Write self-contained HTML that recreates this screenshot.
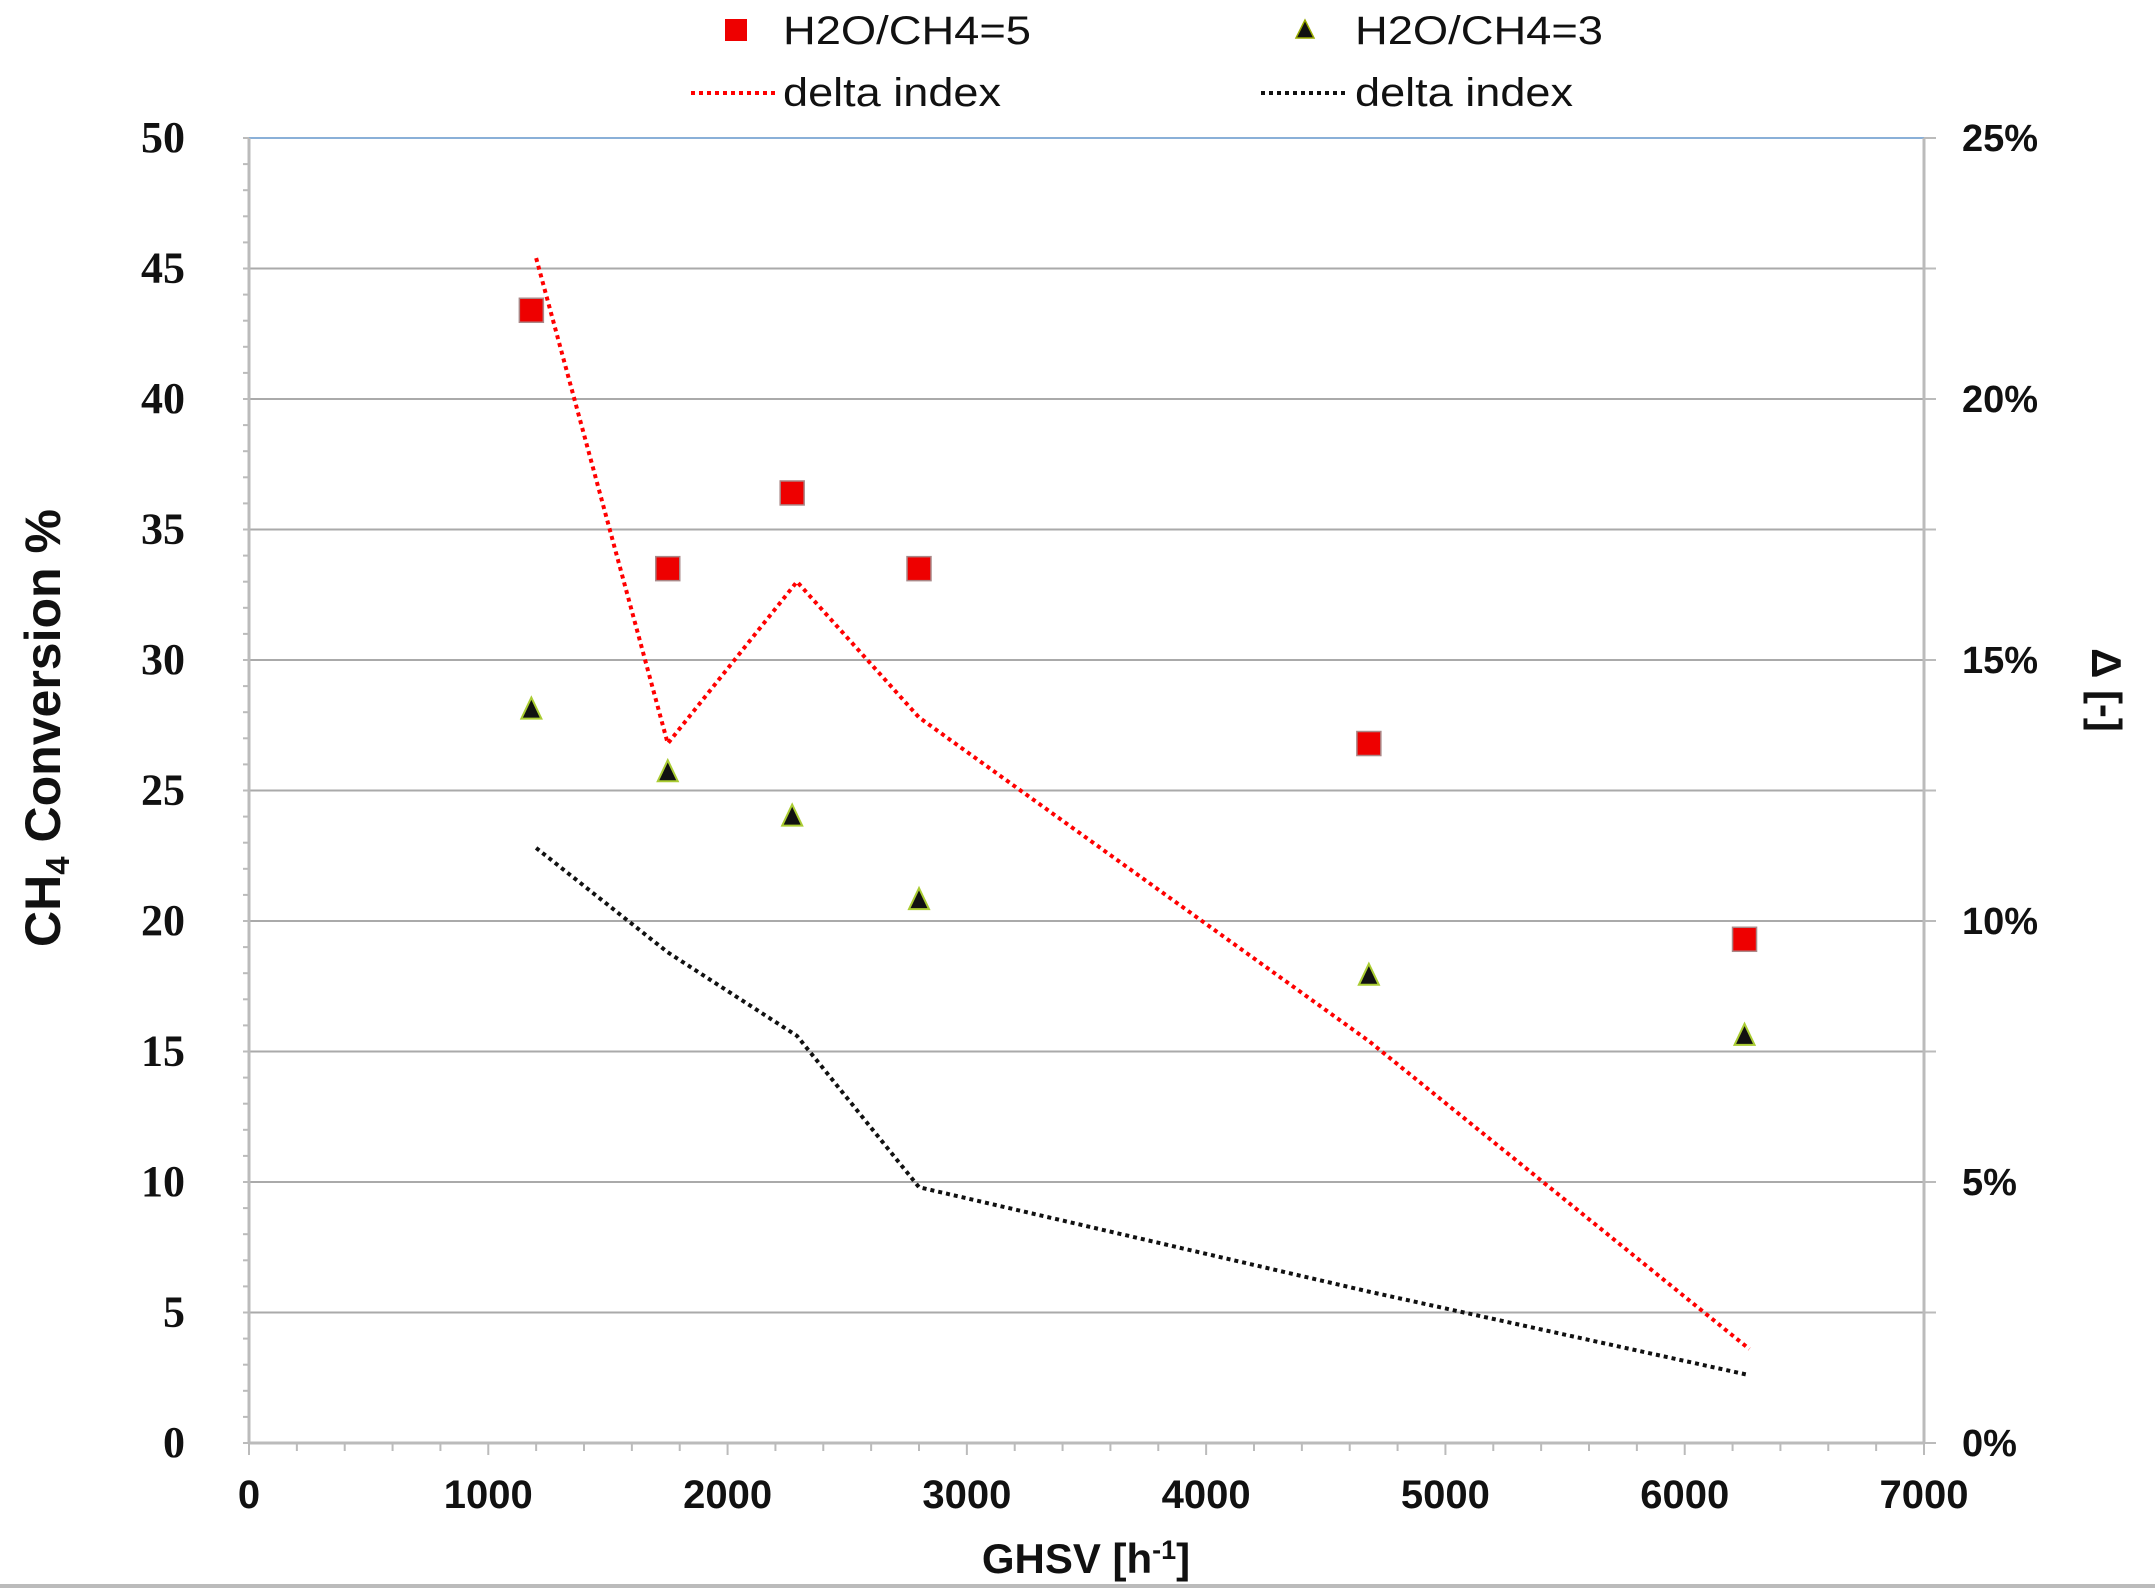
<!DOCTYPE html>
<html><head><meta charset="utf-8"><style>
body{margin:0;background:#fff;}
svg{display:block;}
</style></head><body>
<svg id="chart" width="2155" height="1590" xmlns="http://www.w3.org/2000/svg">
<g id="grid"></g><g id="axes"></g><g id="series"></g>
<g font-family="Liberation Sans, sans-serif" font-size="40" fill="#111">
 <rect x="725" y="19" width="22" height="22" fill="#e00"/>
 <text x="783" y="44" textLength="248" lengthAdjust="spacingAndGlyphs">H2O/CH4=5</text>
 <polygon points="1305,20 1296,38 1314,38" fill="#111" stroke="#9a0" stroke-width="1.5"/>
 <text x="1355" y="44" textLength="248" lengthAdjust="spacingAndGlyphs">H2O/CH4=3</text>
 <line x1="691" y1="93" x2="778" y2="93" stroke="#f00" stroke-width="4" stroke-dasharray="4,4"/>
 <text x="783" y="106" textLength="218" lengthAdjust="spacingAndGlyphs">delta index</text>
 <line x1="1261" y1="93" x2="1348" y2="93" stroke="#111" stroke-width="4" stroke-dasharray="4,4"/>
 <text x="1355" y="106" textLength="218" lengthAdjust="spacingAndGlyphs">delta index</text>
</g>
<text transform="translate(60,728) rotate(-90)" text-anchor="middle" font-family="Liberation Sans, sans-serif" font-weight="bold" font-size="50" fill="#111">CH<tspan font-size="33" dy="9">4</tspan><tspan dy="-9"> Conversion %</tspan></text>
<text transform="translate(2092,690) rotate(90)" text-anchor="middle" font-family="Liberation Sans, sans-serif" font-weight="bold" font-size="42" fill="#111">Δ [-]</text>
<text x="1086" y="1573" text-anchor="middle" font-family="Liberation Sans, sans-serif" font-weight="bold" font-size="42" fill="#111">GHSV [h<tspan font-size="27" dy="-14">-1</tspan><tspan dy="14">]</tspan></text>
<line x1="0" y1="1586" x2="2155" y2="1586" stroke="#bbb" stroke-width="4"/>
</svg>
<script>
const ghsv=[1180,1750,2270,2800,4680,6250];
const conv5=[43.4,33.5,36.4,33.5,26.8,19.3];
const conv3=[28.1,25.7,24.0,20.8,17.9,15.6];
const deltaX=[1200,1750,2290,2800,4680,6270];
const delta5=[22.7,13.4,16.5,13.9,7.7,1.8];
const delta3=[11.4,9.4,7.8,4.9,2.9,1.3];
const xTicks=[0,1000,2000,3000,4000,5000,6000,7000];
const yTicks=[0,5,10,15,20,25,30,35,40,45,50];
const rTicks=[0,5,10,15,20,25];

const L=249,R=1924,T=138,B=1443;
const xs=v=>L+(v/7000)*(R-L);
const ys=v=>B-(v/50)*(B-T);
const yr=v=>B-(v/25)*(B-T);
const NS='http://www.w3.org/2000/svg';
function mk(tag,parent,attrs){const e=document.createElementNS(NS,tag);for(const k in attrs)e.setAttribute(k,attrs[k]);parent.appendChild(e);return e;}
const grid=document.getElementById('grid'),axes=document.getElementById('axes'),ser=document.getElementById('series');

yTicks.forEach(t=>{
 if(t>0){const g=mk('line',grid,{x1:L,x2:R,y1:ys(t),y2:ys(t),stroke:t==50?'#8ab0d8':'#aaa','stroke-width':2});
 
 }
 const tx=mk('text',axes,{x:185,y:ys(t)+14,'text-anchor':'end','font-family':'Liberation Serif, serif','font-weight':'bold','font-size':44,fill:'#111'});
 tx.textContent=t;
 
 
});
for(let v=0;v<=50;v++){const m=mk('line',axes,{x1:L-6,x2:L,y1:ys(v),y2:ys(v),stroke:'#bbb','stroke-width':2});
 
 }
rTicks.forEach(t=>{
 const tx=mk('text',axes,{x:1962,y:yr(t)+13,'font-family':'Liberation Sans, sans-serif','font-weight':'bold','font-size':38,fill:'#111'});
 tx.textContent=t+'%';
 
 
});
for(let v=0;v<=25;v+=2.5){const m=mk('line',axes,{x1:R,x2:R+12,y1:yr(v),y2:yr(v),stroke:'#bbb','stroke-width':2});
 
 }
xTicks.forEach(t=>{
 const tx=mk('text',axes,{x:xs(t),y:1508,'text-anchor':'middle','font-family':'Liberation Sans, sans-serif','font-weight':'bold','font-size':40,fill:'#111'});
 tx.textContent=t;
 
 
});
for(let v=0;v<=7000;v+=200){const m=mk('line',axes,{x1:xs(v),x2:xs(v),y1:B,y2:B+(v%1000==0?12:8),stroke:'#bbb','stroke-width':2});
 
 }
[[L,T,L,B],[R,T,R,B],[L,B,R,B]].forEach(a=>{const l=mk('line',axes,{x1:a[0],y1:a[1],x2:a[2],y2:a[3],stroke:'#bbb','stroke-width':3});
 
 });

const p5=mk('polyline',ser,{points:deltaX.map((x,i)=>xs(x)+','+yr(delta5[i])).join(' '),fill:'none',stroke:'#f00','stroke-width':4,'stroke-dasharray':'4,4'});


const p3=mk('polyline',ser,{points:deltaX.map((x,i)=>xs(x)+','+yr(delta3[i])).join(' '),fill:'none',stroke:'#111','stroke-width':4,'stroke-dasharray':'4,4'});


ghsv.forEach((x,i)=>{
 const s=mk('rect',ser,{x:xs(x)-12,y:ys(conv5[i])-12,width:24,height:24,fill:'#e00',stroke:'#a88','stroke-width':1.5});
 
 
 const cx=xs(x),cy=ys(conv3[i]);
 const t=mk('polygon',ser,{points:`${cx},${cy-12} ${cx-10},${cy+9} ${cx+10},${cy+9}`,fill:'#111',stroke:'#ac3','stroke-width':2});
 
 
});
</script>
</body></html>
